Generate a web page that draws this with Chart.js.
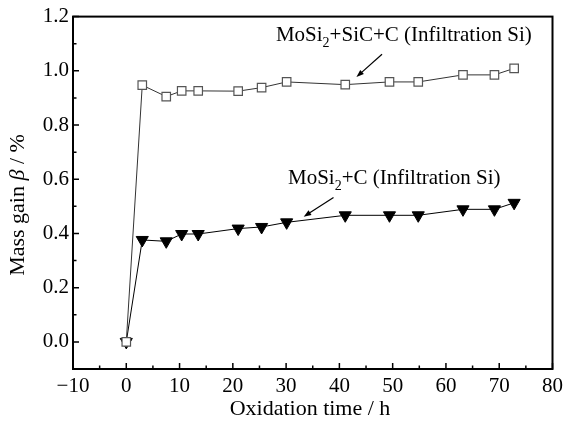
<!DOCTYPE html>
<html>
<head>
<meta charset="utf-8">
<script src="https://cdn.jsdelivr.net/npm/chart.js@4.4.1/dist/chart.umd.min.js"></script>
<style>
html, body { margin: 0; padding: 0; background: #fff; }
#wrap { width: 568px; height: 429px; }
</style>
</head>
<body>
<div id="wrap"><canvas id="grafico"></canvas></div>
<script>
// dados
const tempo = [0, 3, 7.5, 10.4, 13.5, 21, 25.4, 30.1, 41.1, 49.4, 54.8, 63.2, 69.1, 72.8];
const massaSiC = [0, 0.947, 0.905, 0.926, 0.926, 0.925, 0.938, 0.959, 0.949, 0.959, 0.959, 0.985, 0.985, 1.009];
const massaC = [0, 0.376, 0.371, 0.398, 0.398, 0.418, 0.424, 0.441, 0.467, 0.467, 0.467, 0.489, 0.489, 0.513];
const xTicks = [-10, 0, 10, 20, 30, 40, 50, 60, 70, 80];
const yTicks = [0, 0.2, 0.4, 0.6, 0.8, 1.0, 1.2];
const rotuloSiC = ['MoSi', '2', '+SiC+C (Infiltration Si)'];
const rotuloC = ['MoSi', '2', '+C (Infiltration Si)'];
const tituloX = 'Oxidation time / h';
const tituloY = ['Mass gain ', '\u03B2', ' / %'];

const fonte = '"Liberation Serif", "Times New Roman", serif';

function pontos(xs, ys) {
    return xs.map(function (x, i) { return { x: x, y: ys[i] }; });
}

function textoQuimico(ctx, partes, cx, base) {
    ctx.font = '21px ' + fonte;
    const w0 = ctx.measureText(partes[0]).width;
    const w2 = ctx.measureText(partes[2]).width;
    ctx.font = '14px ' + fonte;
    const w1 = ctx.measureText(partes[1]).width;
    let x = cx - (w0 + w1 + w2) / 2;
    ctx.textAlign = 'left';
    ctx.textBaseline = 'alphabetic';
    ctx.font = '21px ' + fonte;
    ctx.fillText(partes[0], x, base);
    x += w0;
    ctx.font = '14px ' + fonte;
    ctx.fillText(partes[1], x, base + 6);
    x += w1;
    ctx.font = '21px ' + fonte;
    ctx.fillText(partes[2], x, base);
}

function seta(ctx, x1, y1, x2, y2) {
    const ang = Math.atan2(y2 - y1, x2 - x1);
    const tam = 8;
    ctx.beginPath();
    ctx.moveTo(x1, y1);
    ctx.lineTo(x2 - Math.cos(ang) * 4, y2 - Math.sin(ang) * 4);
    ctx.lineWidth = 1.2;
    ctx.stroke();
    ctx.beginPath();
    ctx.moveTo(x2, y2);
    ctx.lineTo(x2 - tam * Math.cos(ang - 0.35), y2 - tam * Math.sin(ang - 0.35));
    ctx.lineTo(x2 - tam * Math.cos(ang + 0.35), y2 - tam * Math.sin(ang + 0.35));
    ctx.closePath();
    ctx.fill();
}

const extras = {
    id: 'extras',
    afterDraw(chart) {
        const ctx = chart.ctx;
        const a = chart.chartArea;
        const sx = chart.scales.x;
        const sy = chart.scales.y;
        ctx.save();
        ctx.strokeStyle = '#000';
        ctx.fillStyle = '#000';

        // moldura
        ctx.lineWidth = 2;
        ctx.strokeRect(a.left, a.top, a.right - a.left, a.bottom - a.top);

        // ticks para dentro
        ctx.lineWidth = 1.5;
        ctx.beginPath();
        for (let i = 0; i < xTicks.length; i++) {
            const px = sx.getPixelForValue(xTicks[i]);
            ctx.moveTo(px, a.bottom);
            ctx.lineTo(px, a.bottom - 6);
            if (i < xTicks.length - 1) {
                const pm = sx.getPixelForValue((xTicks[i] + xTicks[i + 1]) / 2);
                ctx.moveTo(pm, a.bottom);
                ctx.lineTo(pm, a.bottom - 3.5);
            }
        }
        for (let i = 0; i < yTicks.length; i++) {
            const py = sy.getPixelForValue(yTicks[i]);
            ctx.moveTo(a.left, py);
            ctx.lineTo(a.left + 6, py);
            if (i < yTicks.length - 1) {
                const pm = sy.getPixelForValue((yTicks[i] + yTicks[i + 1]) / 2);
                ctx.moveTo(a.left, pm);
                ctx.lineTo(a.left + 3.5, pm);
            }
        }
        ctx.stroke();

        // anotacoes
        textoQuimico(ctx, rotuloSiC, sx.getPixelForValue(52.1), sy.getPixelForValue(1.109));
        seta(ctx, sx.getPixelForValue(48.0), sy.getPixelForValue(1.061), sx.getPixelForValue(43.2), sy.getPixelForValue(0.977));
        textoQuimico(ctx, rotuloC, sx.getPixelForValue(50.3), sy.getPixelForValue(0.582));
        seta(ctx, sx.getPixelForValue(38.9), sy.getPixelForValue(0.533), sx.getPixelForValue(33.3), sy.getPixelForValue(0.462));

        // titulos dos eixos
        ctx.font = '22px ' + fonte;
        ctx.textAlign = 'center';
        ctx.textBaseline = 'alphabetic';
        ctx.fillText(tituloX, 310, 415);

        ctx.translate(24, 205);
        ctx.rotate(-Math.PI / 2);
        ctx.font = '22px ' + fonte;
        const w0 = ctx.measureText(tituloY[0]).width;
        const w2 = ctx.measureText(tituloY[2]).width;
        ctx.font = 'italic 22px ' + fonte;
        const w1 = ctx.measureText(tituloY[1]).width;
        let x = -(w0 + w1 + w2) / 2;
        ctx.textAlign = 'left';
        ctx.font = '22px ' + fonte;
        ctx.fillText(tituloY[0], x, 0);
        x += w0;
        ctx.font = 'italic 22px ' + fonte;
        ctx.fillText(tituloY[1], x, 0);
        x += w1;
        ctx.font = '22px ' + fonte;
        ctx.fillText(tituloY[2], x, 0);
        ctx.restore();
    }
};

const grafico = document.getElementById('grafico').getContext('2d');

new Chart(grafico, {
    type: 'scatter',
    data: {
        datasets: [{
            label: 'MoSi2+SiC+C (Infiltration Si)',
            data: pontos(tempo, massaSiC),
            showLine: true,
            borderColor: '#333',
            borderWidth: 1,
            pointStyle: 'rect',
            pointRadius: 6,
            pointBorderColor: '#555',
            pointBorderWidth: 1.2,
            pointBackgroundColor: '#fff'
        }, {
            label: 'MoSi2+C (Infiltration Si)',
            data: pontos(tempo, massaC),
            showLine: true,
            borderColor: '#000',
            borderWidth: 1,
            pointStyle: 'triangle',
            rotation: 180,
            pointRadius: 7,
            pointBorderColor: '#000',
            pointBorderWidth: 1,
            pointBackgroundColor: '#000'
        }]
    },
    options: {
        responsive: true,
        maintainAspectRatio: false,
        animation: false,
        devicePixelRatio: 1,
        layout: { padding: { left: 0, top: 14, right: 14, bottom: 0 } },
        plugins: {
            legend: { display: false },
            tooltip: { enabled: false }
        },
        scales: {
            x: {
                type: 'linear',
                min: -10,
                max: 80,
                afterBuildTicks: function (scale) {
                    scale.ticks = xTicks.map(function (v) { return { value: v }; });
                },
                afterFit: function (scale) { scale.height = 60; },
                grid: { display: false, drawTicks: false },
                border: { display: false },
                ticks: {
                    color: '#000',
                    padding: 5,
                    maxRotation: 0,
                    font: { family: fonte, size: 21 },
                    callback: function (v) { return v < 0 ? '\u2212' + Math.abs(v) : String(v); }
                }
            },
            y: {
                type: 'linear',
                min: -0.1,
                max: 1.2,
                afterBuildTicks: function (scale) {
                    scale.ticks = yTicks.map(function (v) { return { value: v }; });
                },
                afterFit: function (scale) { scale.width = 73; },
                grid: { display: false, drawTicks: false },
                border: { display: false },
                ticks: {
                    color: '#000',
                    padding: 4,
                    font: { family: fonte, size: 21 },
                    callback: function (v) { return v.toFixed(1); }
                }
            }
        }
    },
    plugins: [extras]
});
</script>
</body>
</html>
